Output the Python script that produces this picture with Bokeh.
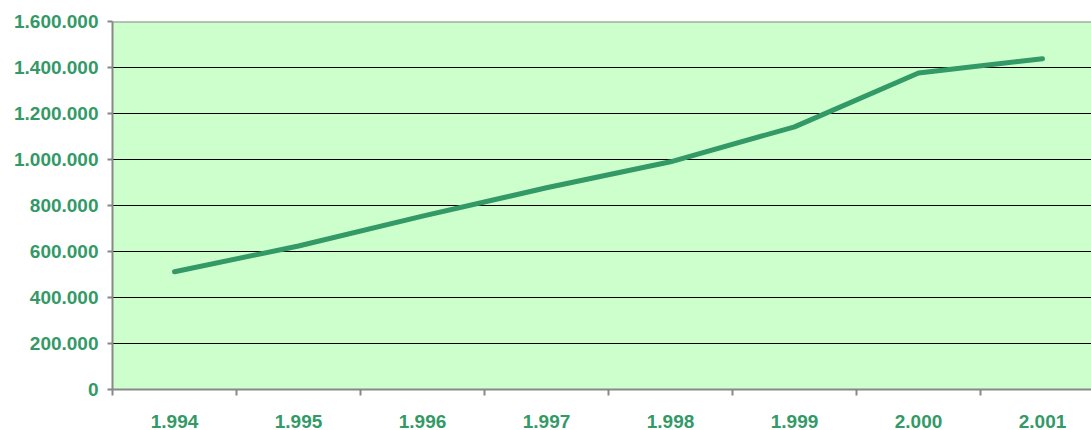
import numpy as np
from bokeh.plotting import figure
from bokeh.models import FixedTicker, CustomJSTickFormatter, Range1d, Span
from bokeh.embed import file_html
from bokeh.resources import INLINE

years = ["1.994", "1.995", "1.996", "1.997", "1.998", "1.999", "2.000", "2.001"]
values = [512000, 624000, 754000, 877000, 990000, 1142000, 1376000, 1438000]
y_ticks = [0, 200000, 400000, 600000, 800000, 1000000, 1200000, 1400000, 1600000]

GREEN = "#339966"
GREY = "#888888"
n = len(years)
xs = np.arange(n) + 0.5

# the plot area runs past the right edge of the picture (as in the original)
p = figure(width=1091, height=430, output_backend="svg", toolbar_location=None,
           x_range=Range1d(0, 7.895), y_range=Range1d(0, 1600000),
           min_border_left=112, min_border_right=0, min_border_top=21, min_border_bottom=40)
p.background_fill_color = "#CCFFCC"
p.border_fill_color = "white"
p.outline_line_color = None

p.line(xs, values, line_color=GREEN, line_width=5, line_cap="round", line_join="round")

# x axis: tick marks at category boundaries, labels at centres
p.xaxis.ticker = FixedTicker(ticks=list(xs), minor_ticks=list(range(n + 1)))
p.xaxis.major_label_overrides = {float(x): yr for x, yr in zip(xs, years)}
p.xaxis.major_tick_out = 0
p.xaxis.major_tick_in = 0
p.xaxis.minor_tick_out = 6
p.xaxis.minor_tick_in = 0
p.xaxis.minor_tick_line_color = GREY
p.xaxis.minor_tick_line_width = 2
p.xaxis.axis_line_color = GREY
p.xaxis.axis_line_width = 2
p.xaxis.major_label_standoff = 19
p.xgrid.visible = False

p.yaxis.ticker = FixedTicker(ticks=y_ticks)
p.yaxis.formatter = CustomJSTickFormatter(code="""
return Math.round(tick).toString().replace(/\\B(?=(\\d{3})+(?!\\d))/g, ".");
""")
p.yaxis.major_tick_out = 5
p.yaxis.major_tick_in = 0
p.yaxis.minor_tick_out = 0
p.yaxis.minor_tick_in = 0
p.yaxis.major_tick_line_color = GREY
p.yaxis.major_tick_line_width = 2
p.yaxis.axis_line_color = GREY
p.yaxis.axis_line_width = 2
p.yaxis.major_label_standoff = 9
p.ygrid.grid_line_color = "black"
p.ygrid.grid_line_width = 1

# grey top border of the plot area
p.add_layout(Span(location=y_ticks[-1], dimension="width", line_color=GREY, line_width=2))

for ax in (p.xaxis, p.yaxis):
    ax.major_label_text_font = "Liberation Sans"
    ax.major_label_text_font_style = "bold"
    ax.major_label_text_font_size = "19px"
    ax.major_label_text_color = GREEN

open("out.html", "w").write(file_html(p, INLINE))
